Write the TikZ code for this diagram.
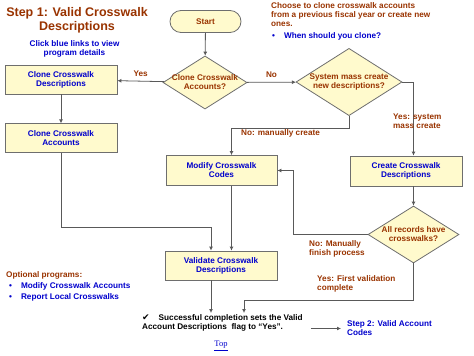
\documentclass[tikz,border=0pt]{standalone}
\usepackage{xcolor}
\usepackage{fontspec}
\setmainfont{Liberation Sans}
\setsansfont{Liberation Sans}
\newfontfamily\symfont{DejaVu Sans}
\newfontfamily\linkfont{Liberation Serif}
\usepackage{tikz}
\usetikzlibrary{arrows.meta,positioning,shapes.geometric}
\definecolor{walkred}{HTML}{993300}
\definecolor{walkblue}{HTML}{0000CC}
\definecolor{walkfill}{HTML}{FFFACD}
\definecolor{walkline}{HTML}{6E6E6E}
\newcommand{\walkfont}{\sffamily\bfseries\fontsize{8.2}{9}\selectfont}
\tikzset{
  walk-box/.style={draw=walkline, fill=walkfill, line width=0.8pt, align=center,
    text=walkblue, font=\walkfont, minimum width=112pt, minimum height=29pt, inner sep=2pt},
  walk-decision/.style={diamond, draw=walkline, fill=walkfill, line width=0.8pt, align=center,
    text=walkred, font=\walkfont, inner xsep=-14pt, inner ysep=0pt},
  walk-terminal/.style={draw=walkline, fill=walkfill, line width=0.8pt, rounded corners=11pt,
    text=walkred, font=\walkfont, minimum width=71pt, minimum height=22pt},
  walk-label/.style={text=walkred, font=\walkfont, align=left, inner sep=1pt},
  walk-link/.style={text=walkblue, font=\walkfont, align=left, inner sep=1pt},
  walk-note/.style={text=black, font=\walkfont, align=left, inner sep=1pt},
  walk-arrow/.style={draw=black!65, line width=0.8pt, -{Latex[length=4pt, width=4pt]}}
}
\begin{document}
\begin{tikzpicture}[x=1pt, y=-1pt, node distance=29pt and 46pt]
  \useasboundingbox (0,0) rectangle (474,356);
  % headings and notes
  \node[text=walkred, font=\sffamily\bfseries\fontsize{12.5}{14}\selectfont, align=center] (title) at (77,20) {Step 1: Valid Crosswalk\\Descriptions};
  \node[walk-link, align=center] (hint) at (74.5,48.5) {Click blue links to view\\program details};
  \node[walk-label, anchor=north west] (choose) at (270,1) {Choose to clone crosswalk accounts\\from a previous fiscal year or create new\\ones.};
  \node[walk-link, anchor=west] (whenclone) at (271,36) {\textbullet\hspace{9pt}When should you clone?};
  \node[walk-label, anchor=west] (optional) at (5,275) {Optional programs:};
  \node[walk-link, anchor=west] (modacct) at (8,286.5) {\textbullet\hspace{9pt}Modify Crosswalk Accounts};
  \node[walk-link, anchor=west] (reploc) at (8,297.5) {\textbullet\hspace{9pt}Report Local Crosswalks};
  % flow
  \node[walk-terminal] (start) at (205.5,21.5) {Start};
  \node[walk-decision, minimum width=84pt, minimum height=49pt] (clone) at (205,82.5) {Clone Crosswalk\\Accounts?};
  \node[walk-box] (clonedesc) at (61,79.5) {Clone Crosswalk\\Descriptions};
  \node[walk-box, below=of clonedesc] (cloneacct) {Clone Crosswalk\\Accounts};
  \node[walk-decision, minimum width=106pt, minimum height=58pt] (mass) at (349,82) {System mass create\\new descriptions?};
  \node[walk-box, minimum width=111pt, minimum height=30pt] (modify) at (221.5,170.5) {Modify Crosswalk\\Codes};
  \node[walk-box, minimum height=30pt] (create) at (406,171) {Create Crosswalk\\Descriptions};
  \node[walk-decision, minimum width=91pt, minimum height=57pt] (allrec) at (413.5,234.5) {All records have\\crosswalks?};
  \node[walk-box] (validate) at (221,265.5) {Validate Crosswalk\\Descriptions};
  \node[walk-note, anchor=north west] (done) at (141,313) {{\symfont\fontsize{9}{9}\selectfont ✔}\hspace{9pt}Successful completion sets the Valid\\Account Descriptions\ \ flag to “Yes”.};
  \node[walk-link, anchor=west] (step2) at (346,328.5) {Step 2: Valid Account\\Codes};
  \node[text=walkblue, font=\linkfont\fontsize{8.5}{9}\selectfont] (top) at (221,346) {\underline{Top}};
  % connectors
  \draw[walk-arrow] (start) -- (clone);
  \draw[walk-arrow] (clone) -- node[walk-label, above=3pt] (yesclone) {Yes} (clonedesc);
  \draw[walk-arrow] (clone) -- node[walk-label, above=3pt] (noclone) {No} (mass);
  \draw[walk-arrow] (clonedesc) -- (cloneacct);
  \draw[walk-arrow] (mass.east) -| (create.north -| allrec.north);
  \draw[walk-arrow] (mass.south) -- ++(0,12) -| ([xshift=10pt]modify.north);
  \draw[walk-arrow] (create.south -| allrec.north) -- (allrec.north);
  \draw[walk-arrow] (allrec.west) -- ++(-74,0) |- (modify.east);
  \draw[walk-arrow] ([xshift=10pt]modify.south) -- ([xshift=10pt]modify.south |- validate.north);
  \draw[walk-arrow] (cloneacct.south) -- ++(0,74) -| ([xshift=-10pt]validate.north);
  \draw[walk-arrow] ([xshift=-10pt]validate.south) -- ([xshift=-10pt]validate.south |- done.north);
  \draw[walk-arrow] (allrec.south) -- ++(0,37) -| ([xshift=23pt]validate.south |- done.north);
  \draw[walk-arrow, shorten <=7pt, shorten >=5pt] (done.east |- step2) -- (step2.west);
  % branch labels
  \node[walk-label, anchor=west] (manual) at (240,133) {No: manually create};
  \node[walk-label, anchor=west] (masscreate) at (392,121.5) {Yes: system\\mass create};
  \node[walk-label, anchor=west] (finish) at (308,248.5) {No: Manually\\finish process};
  \node[walk-label, anchor=west] (firstval) at (316,283.5) {Yes: First validation\\complete};
\end{tikzpicture}
\end{document}
